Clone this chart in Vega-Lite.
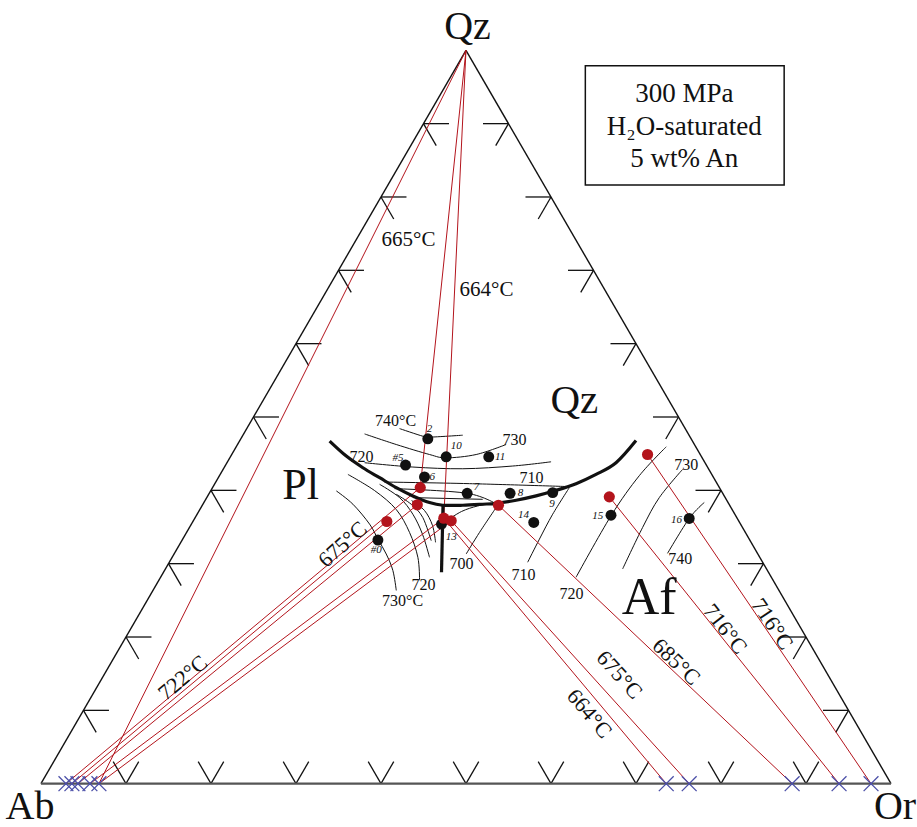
{
 "$schema": "https://vega.github.io/schema/vega-lite/v6.json",
 "width": 917, "height": 827,
 "autosize": {"type": "fit", "contains": "padding"},
 "padding": 0,
 "background": "white",
 "config": {"view": {"stroke": null}, "text": {"font": "Liberation Serif", "color": "#111111", "baseline": "middle", "align": "center"}},
 "datasets": {
  "edges": [
   {"x": 0, "y": 0, "x2": 50, "y2": 86.6, "side": "left"},
   {"x": 50, "y": 86.6, "x2": 100, "y2": 0, "side": "right"},
   {"x": 0, "y": 0, "x2": 100, "y2": 0, "side": "base"}
  ],
  "ticks": [
   {"x":5,"y":8.66,"x2":8,"y2":8.66},{"x":5,"y":8.66,"x2":6.5,"y2":6.06},
   {"x":10,"y":17.32,"x2":13,"y2":17.32},{"x":10,"y":17.32,"x2":11.5,"y2":14.72},
   {"x":15,"y":25.98,"x2":18,"y2":25.98},{"x":15,"y":25.98,"x2":16.5,"y2":23.38},
   {"x":20,"y":34.64,"x2":23,"y2":34.64},{"x":20,"y":34.64,"x2":21.5,"y2":32.04},
   {"x":25,"y":43.3,"x2":28,"y2":43.3},{"x":25,"y":43.3,"x2":26.5,"y2":40.7},
   {"x":30,"y":51.96,"x2":33,"y2":51.96},{"x":30,"y":51.96,"x2":31.5,"y2":49.36},
   {"x":35,"y":60.62,"x2":38,"y2":60.62},{"x":35,"y":60.62,"x2":36.5,"y2":58.02},
   {"x":40,"y":69.28,"x2":43,"y2":69.28},{"x":40,"y":69.28,"x2":41.5,"y2":66.68},
   {"x":45,"y":77.94,"x2":48,"y2":77.94},{"x":45,"y":77.94,"x2":46.5,"y2":75.34},
   {"x":95,"y":8.66,"x2":92,"y2":8.66},{"x":95,"y":8.66,"x2":93.5,"y2":6.06},
   {"x":90,"y":17.32,"x2":87,"y2":17.32},{"x":90,"y":17.32,"x2":88.5,"y2":14.72},
   {"x":85,"y":25.98,"x2":82,"y2":25.98},{"x":85,"y":25.98,"x2":83.5,"y2":23.38},
   {"x":80,"y":34.64,"x2":77,"y2":34.64},{"x":80,"y":34.64,"x2":78.5,"y2":32.04},
   {"x":75,"y":43.3,"x2":72,"y2":43.3},{"x":75,"y":43.3,"x2":73.5,"y2":40.7},
   {"x":70,"y":51.96,"x2":67,"y2":51.96},{"x":70,"y":51.96,"x2":68.5,"y2":49.36},
   {"x":65,"y":60.62,"x2":62,"y2":60.62},{"x":65,"y":60.62,"x2":63.5,"y2":58.02},
   {"x":60,"y":69.28,"x2":57,"y2":69.28},{"x":60,"y":69.28,"x2":58.5,"y2":66.68},
   {"x":55,"y":77.94,"x2":52,"y2":77.94},{"x":55,"y":77.94,"x2":53.5,"y2":75.34},
   {"x":10,"y":0,"x2":8.5,"y2":2.6},{"x":10,"y":0,"x2":11.5,"y2":2.6},
   {"x":20,"y":0,"x2":18.5,"y2":2.6},{"x":20,"y":0,"x2":21.5,"y2":2.6},
   {"x":30,"y":0,"x2":28.5,"y2":2.6},{"x":30,"y":0,"x2":31.5,"y2":2.6},
   {"x":40,"y":0,"x2":38.5,"y2":2.6},{"x":40,"y":0,"x2":41.5,"y2":2.6},
   {"x":50,"y":0,"x2":48.5,"y2":2.6},{"x":50,"y":0,"x2":51.5,"y2":2.6},
   {"x":60,"y":0,"x2":58.5,"y2":2.6},{"x":60,"y":0,"x2":61.5,"y2":2.6},
   {"x":70,"y":0,"x2":68.5,"y2":2.6},{"x":70,"y":0,"x2":71.5,"y2":2.6},
   {"x":80,"y":0,"x2":78.5,"y2":2.6},{"x":80,"y":0,"x2":81.5,"y2":2.6},
   {"x":90,"y":0,"x2":88.5,"y2":2.6},{"x":90,"y":0,"x2":91.5,"y2":2.6}
  ],
  "ties": [
   {"x":50,"y":86.6,"x2":6.82,"y2":0},
   {"x":50,"y":86.6,"x2":44.62,"y2":34.96},
   {"x":50,"y":86.6,"x2":47.39,"y2":31.35},
   {"x":2.94,"y":0,"x2":44.62,"y2":34.96},
   {"x":3.64,"y":0,"x2":40.69,"y2":30.96},
   {"x":4.35,"y":0,"x2":44.27,"y2":32.93},
   {"x":5.76,"y":0,"x2":47.39,"y2":31.35},
   {"x":6.82,"y":0,"x2":48.26,"y2":31.05},
   {"x":47.39,"y":31.35,"x2":73.56,"y2":0},
   {"x":48.26,"y":31.05,"x2":76.26,"y2":0},
   {"x":53.82,"y":32.88,"x2":88.37,"y2":0},
   {"x":66.86,"y":33.87,"x2":93.89,"y2":0},
   {"x":71.36,"y":38.87,"x2":97.65,"y2":0}
  ],
  "iso": [
   {"id":"I1","o":1,"x":42.19,"y":41.93},{"id":"I1","o":2,"x":44.92,"y":41.03},{"id":"I1","o":3,"x":45.71,"y":40.92},{"id":"I1","o":4,"x":49.62,"y":41.15},
   {"id":"I2","o":1,"x":38.07,"y":41.30},{"id":"I2","o":2,"x":41.80,"y":40.05},{"id":"I2","o":3,"x":45.71,"y":38.87},{"id":"I2","o":4,"x":47.67,"y":38.48},{"id":"I2","o":5,"x":51.20,"y":38.87},{"id":"I2","o":6,"x":54.72,"y":40.05},
   {"id":"I3","o":1,"x":38.07,"y":37.90},{"id":"I3","o":2,"x":43.75,"y":37.39},{"id":"I3","o":3,"x":49.62,"y":37.19},{"id":"I3","o":4,"x":55.50,"y":37.51},{"id":"I3","o":5,"x":60.01,"y":38.01},
   {"id":"I4","o":1,"x":40.4,"y":35.62},{"id":"I4","o":2,"x":50.41,"y":35.43},{"id":"I4","o":3,"x":62.16,"y":35.08},
   {"id":"I5","o":1,"x":41.60,"y":34.84},{"id":"I5","o":2,"x":50.14,"y":34.29},{"id":"I5","o":3,"x":53.82,"y":32.88},
   {"id":"I6","o":1,"x":43.75,"y":33.78},{"id":"I6","o":2,"x":51.97,"y":33.58},
   {"id":"A1","o":1,"x":34.75,"y":34.57},{"id":"A1","o":2,"x":36.70,"y":33.00},{"id":"A1","o":3,"x":38.66,"y":30.65},{"id":"A1","o":4,"x":39.64,"y":28.88},{"id":"A1","o":5,"x":40.62,"y":27.12},{"id":"A1","o":6,"x":41.40,"y":25.17},{"id":"A1","o":7,"x":41.80,"y":22.82},
   {"id":"A2","o":1,"x":36.11,"y":36.52},{"id":"A2","o":2,"x":39.25,"y":34.61},{"id":"A2","o":3,"x":41.80,"y":32.37},{"id":"A2","o":4,"x":43.36,"y":29.67},{"id":"A2","o":5,"x":44.34,"y":26.73},{"id":"A2","o":6,"x":44.54,"y":24.03},
   {"id":"A3","o":1,"x":39.84,"y":35.35},{"id":"A3","o":2,"x":42.19,"y":33.78},{"id":"A3","o":3,"x":43.75,"y":31.82},{"id":"A3","o":4,"x":44.89,"y":29.44},{"id":"A3","o":5,"x":45.71,"y":26.73},
   {"id":"A4","o":1,"x":41.80,"y":34.17},{"id":"A4","o":2,"x":43.60,"y":32.96},{"id":"A4","o":3,"x":44.92,"y":31.43},{"id":"A4","o":4,"x":45.91,"y":28.70},
   {"id":"A5","o":1,"x":43.60,"y":33.43},{"id":"A5","o":2,"x":45.12,"y":32.26},{"id":"A5","o":3,"x":46.06,"y":30.49},{"id":"A5","o":4,"x":46.42,"y":28.50},
   {"id":"R700","o":1,"x":50.02,"y":27.12},{"id":"R700","o":2,"x":51.59,"y":29.67},{"id":"R700","o":3,"x":53.55,"y":32.61},
   {"id":"R13","o":1,"x":47.59,"y":30.96},{"id":"R13","o":2,"x":49.47,"y":32.14},{"id":"R13","o":3,"x":51.35,"y":32.79},{"id":"R13","o":4,"x":53.00,"y":33.08},
   {"id":"R710","o":1,"x":57.26,"y":26.15},{"id":"R710","o":2,"x":58.64,"y":28.88},{"id":"R710","o":3,"x":60.20,"y":31.82},{"id":"R710","o":4,"x":62.16,"y":34.96},
   {"id":"R720","o":1,"x":62.95,"y":24.38},{"id":"R720","o":2,"x":67.06,"y":31.63},{"id":"R720","o":3,"x":70.39,"y":36.37},{"id":"R720","o":4,"x":73.56,"y":39.78},
   {"id":"R730","o":1,"x":68.43,"y":25.36},{"id":"R730","o":2,"x":70.78,"y":30.26},{"id":"R730","o":3,"x":72.74,"y":33.78},{"id":"R730","o":4,"x":75.48,"y":37.11},
   {"id":"R740","o":1,"x":73.71,"y":27.20},{"id":"R740","o":2,"x":76.26,"y":31.32},{"id":"R740","o":3,"x":78.03,"y":33.20}
  ],
  "cot": [
   {"id":"U","o":1,"x":33.96,"y":40.45},{"id":"U","o":2,"x":35.92,"y":38.68},{"id":"U","o":3,"x":37.87,"y":37.31},{"id":"U","o":4,"x":39.84,"y":36.13},{"id":"U","o":5,"x":41.80,"y":34.96},{"id":"U","o":6,"x":43.75,"y":33.98},{"id":"U","o":7,"x":45.71,"y":33.20},{"id":"U","o":8,"x":47.27,"y":32.88},{"id":"U","o":9,"x":49.62,"y":32.88},{"id":"U","o":10,"x":51.97,"y":33.00},{"id":"U","o":11,"x":53.55,"y":33.11},{"id":"U","o":12,"x":55.90,"y":33.47},{"id":"U","o":13,"x":58.25,"y":33.98},{"id":"U","o":14,"x":60.60,"y":34.64},{"id":"U","o":15,"x":62.95,"y":35.43},{"id":"U","o":16,"x":65.30,"y":36.52},{"id":"U","o":17,"x":67.65,"y":37.90},{"id":"U","o":18,"x":70.00,"y":40.52},
   {"id":"V","o":1,"x":47.30,"y":32.90},{"id":"V","o":2,"x":47.12,"y":24.97}
  ],
  "dots": [
   {"run":"2","x":45.51,"y":40.72,"kind":"run"},
   {"run":"10","x":47.67,"y":38.60,"kind":"run"},
   {"run":"11","x":52.68,"y":38.60,"kind":"run"},
   {"run":"#5","x":42.89,"y":37.63,"kind":"run"},
   {"run":"6","x":45.12,"y":36.22,"kind":"run"},
   {"run":"7","x":50.14,"y":34.29,"kind":"run"},
   {"run":"8","x":55.19,"y":34.29,"kind":"run"},
   {"run":"9","x":60.20,"y":34.37,"kind":"run"},
   {"run":"14","x":57.97,"y":30.85,"kind":"run"},
   {"run":"#0","x":39.64,"y":28.77,"kind":"run"},
   {"run":"13","x":47.12,"y":30.65,"kind":"run"},
   {"run":"15","x":67.06,"y":31.70,"kind":"run"},
   {"run":"16","x":76.26,"y":31.32,"kind":"run"},
   {"run":"m1","x":44.62,"y":34.96,"kind":"melt"},
   {"run":"m2","x":44.27,"y":32.93,"kind":"melt"},
   {"run":"m3","x":40.69,"y":30.96,"kind":"melt"},
   {"run":"m4","x":47.39,"y":31.35,"kind":"melt"},
   {"run":"m5","x":48.26,"y":31.05,"kind":"melt"},
   {"run":"m6","x":53.82,"y":32.88,"kind":"melt"},
   {"run":"m7","x":66.86,"y":33.87,"kind":"melt"},
   {"run":"m8","x":71.36,"y":38.87,"kind":"melt"}
  ],
  "xtal": [
   {"x":2.94,"y":0},{"x":3.64,"y":0},{"x":4.35,"y":0},{"x":5.76,"y":0},{"x":6.82,"y":0},
   {"x":73.56,"y":0},{"x":76.26,"y":0},{"x":88.37,"y":0},{"x":93.89,"y":0},{"x":97.65,"y":0}
  ],
  "runlab": [
   {"t":"2","x":45.71,"y":41.93},{"t":"10","x":48.85,"y":39.86},{"t":"11","x":54.02,"y":38.60},
   {"t":"#5","x":41.99,"y":38.48},{"t":"6","x":46.03,"y":36.25},{"t":"7","x":51.23,"y":35.08},
   {"t":"8","x":56.40,"y":34.35},{"t":"9","x":60.13,"y":33.00},{"t":"14","x":56.76,"y":31.70},
   {"t":"13","x":48.26,"y":29.08},{"t":"#0","x":39.45,"y":27.59},{"t":"15","x":65.49,"y":31.63},
   {"t":"16","x":74.77,"y":31.16}
  ],
  "isolab": [
   {"t":"740°C","x":41.72,"y":42.83},{"t":"730","x":55.70,"y":40.60},{"t":"720","x":37.72,"y":38.60},
   {"t":"710","x":57.70,"y":36.15},{"t":"700","x":49.47,"y":25.91},{"t":"720","x":45.01,"y":23.44},
   {"t":"730°C","x":42.54,"y":21.56},{"t":"710","x":56.76,"y":24.62},{"t":"720","x":62.40,"y":22.39},
   {"t":"730","x":75.91,"y":37.66},{"t":"740","x":75.21,"y":26.50}
  ],
  "box": [{"x":64.04,"x2":87.43,"y":84.78,"y2":70.68}],
  "boxtext": [
   {"t":"300 MPa","x":75.68,"y":81.49},
   {"t":"H₂O-saturated","x":75.68,"y":77.50},
   {"t":"5 wt% An","x":75.68,"y":73.74}
  ]
 },
 "encoding": {
  "x": {"field": "x", "type": "quantitative", "axis": null, "scale": {"domain": [-4.818, 102.94], "nice": false, "zero": false}},
  "y": {"field": "y", "type": "quantitative", "axis": null, "scale": {"domain": [-4.642, 92.54], "nice": false, "zero": false}}
 },
 "layer": [
  {"data": {"name": "iso"}, "mark": {"type": "line", "color": "#111111", "strokeWidth": 1, "interpolate": "cardinal"},
   "encoding": {"detail": {"field": "id"}, "order": {"field": "o", "type": "quantitative"}}},
  {"data": {"name": "ticks"}, "mark": {"type": "rule", "color": "#111111", "strokeWidth": 1.3},
   "encoding": {"x2": {"field": "x2"}, "y2": {"field": "y2"}}},
  {"data": {"name": "edges"}, "transform": [{"filter": "datum.side != 'base'"}], "mark": {"type": "rule", "color": "#111111", "strokeWidth": 1.4},
   "encoding": {"x2": {"field": "x2"}, "y2": {"field": "y2"}}},
  {"data": {"name": "edges"}, "transform": [{"filter": "datum.side == 'base'"}], "mark": {"type": "rule", "color": "#555555", "strokeWidth": 2.2},
   "encoding": {"x2": {"field": "x2"}, "y2": {"field": "y2"}}},
  {"data": {"name": "ties"}, "mark": {"type": "rule", "color": "#b3141c", "strokeWidth": 1},
   "encoding": {"x2": {"field": "x2"}, "y2": {"field": "y2"}}},
  {"data": {"name": "cot"}, "mark": {"type": "line", "color": "#111111", "strokeWidth": 3.2, "interpolate": "cardinal"},
   "encoding": {"detail": {"field": "id"}, "order": {"field": "o", "type": "quantitative"}}},
  {"data": {"name": "dots"}, "transform": [{"filter": "datum.kind == 'run'"}], "mark": {"type": "point", "filled": true, "size": 120, "color": "#111111", "opacity": 1}},
  {"data": {"name": "dots"}, "transform": [{"filter": "datum.kind == 'melt'"}], "mark": {"type": "point", "filled": true, "size": 125, "color": "#b3141c", "opacity": 1}},
  {"data": {"name": "xtal"}, "mark": {"type": "point", "shape": "M-1,-1L1,1M-1,1L1,-1", "filled": false, "size": 220, "color": "#4b4fa8", "strokeWidth": 1.3, "opacity": 1}},
  {"data": {"name": "box"}, "mark": {"type": "rect", "fill": "transparent", "stroke": "#111111", "strokeWidth": 1.5},
   "encoding": {"x2": {"field": "x2"}, "y2": {"field": "y2"}}},
  {"data": {"name": "boxtext"}, "mark": {"type": "text", "fontSize": 27}, "encoding": {"text": {"field": "t"}}},
  {"data": {"values": [{"t":"Qz","x":50.18,"y":89.37},{"t":"Ab","x":-1.29,"y":-2.76},{"t":"Or","x":100.47,"y":-2.76}]}, "mark": {"type": "text", "fontSize": 40}, "encoding": {"text": {"field": "t"}}},
  {"data": {"values": [{"t":"Qz","x":62.75,"y":45.18}]}, "mark": {"type": "text", "fontSize": 41}, "encoding": {"text": {"field": "t"}}},
  {"data": {"values": [{"t":"Pl","x":30.55,"y":35.19}]}, "mark": {"type": "text", "fontSize": 44}, "encoding": {"text": {"field": "t"}}},
  {"data": {"values": [{"t":"Af","x":71.56,"y":21.92}]}, "mark": {"type": "text", "fontSize": 52}, "encoding": {"text": {"field": "t"}}},
  {"data": {"values": [{"t":"665°C","x":43.24,"y":64.22},{"t":"664°C","x":52.41,"y":58.34}]}, "mark": {"type": "text", "fontSize": 21}, "encoding": {"text": {"field": "t"}}},
  {"data": {"values": [{"t":"675°C","x":35.49,"y":28.26}]}, "mark": {"type": "text", "fontSize": 22, "angle": -42}, "encoding": {"text": {"field": "t"}}},
  {"data": {"values": [{"t":"722°C","x":16.69,"y":12.51}]}, "mark": {"type": "text", "fontSize": 22, "angle": -40}, "encoding": {"text": {"field": "t"}}},
  {"data": {"values": [{"t":"664°C","x":64.51,"y":8.28}]}, "mark": {"type": "text", "fontSize": 22, "angle": 50}, "encoding": {"text": {"field": "t"}}},
  {"data": {"values": [{"t":"675°C","x":68.04,"y":12.87}]}, "mark": {"type": "text", "fontSize": 22, "angle": 48}, "encoding": {"text": {"field": "t"}}},
  {"data": {"values": [{"t":"685°C","x":74.74,"y":14.39}]}, "mark": {"type": "text", "fontSize": 22, "angle": 44}, "encoding": {"text": {"field": "t"}}},
  {"data": {"values": [{"t":"716°C","x":80.49,"y":18.27}]}, "mark": {"type": "text", "fontSize": 22, "angle": 52}, "encoding": {"text": {"field": "t"}}},
  {"data": {"values": [{"t":"716°C","x":86.02,"y":18.86}]}, "mark": {"type": "text", "fontSize": 22, "angle": 56}, "encoding": {"text": {"field": "t"}}},
  {"data": {"name": "isolab"}, "mark": {"type": "text", "fontSize": 16}, "encoding": {"text": {"field": "t"}}},
  {"data": {"name": "runlab"}, "mark": {"type": "text", "fontSize": 11, "fontStyle": "italic"}, "encoding": {"text": {"field": "t"}}}
 ]
}
